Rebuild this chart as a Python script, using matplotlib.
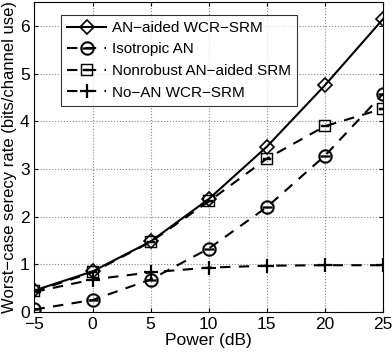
import matplotlib
matplotlib.use("Agg")
import matplotlib.pyplot as plt

power = [-5, 0, 5, 10, 15, 20, 25]
an_aided = [0.45, 0.85, 1.48, 2.37, 3.47, 4.76, 6.15]
isotropic = [0.05, 0.25, 0.68, 1.33, 2.20, 3.28, 4.58]
nonrobust = [0.43, 0.83, 1.47, 2.32, 3.22, 3.90, 4.27]
no_an = [0.42, 0.68, 0.83, 0.93, 0.97, 0.98, 0.98]
labels = ["AN\u2212aided WCR\u2212SRM", "Isotropic AN", "Nonrobust AN\u2212aided SRM", "No\u2212AN WCR\u2212SRM"]

plt.rcParams['font.family'] = ['Liberation Sans Narrow', 'Liberation Sans', 'DejaVu Sans']
fig = plt.figure(figsize=(3.92, 3.52), dpi=100)
ax = fig.add_axes([0.088, 0.114, 0.889, 0.879])

dash = (0, (5, 4))
ax.plot(power, an_aided, '-', color='k', lw=1.5, marker='D', ms=7, mfc='none', mew=1.2, label=labels[0])
ax.plot(power, isotropic, linestyle=dash, color='k', lw=1.5, marker='$\\ominus$', ms=10, mew=0.3, label=labels[1])
ax.plot(power, nonrobust, linestyle=dash, color='k', lw=1.5, marker='$\\boxminus$', ms=9, mew=0.3, label=labels[2])
ax.plot(power, no_an, linestyle=dash, color='k', lw=1.5, marker='+', ms=10, mew=1.6, label=labels[3])

ax.set_xlim(-5, 25)
ax.set_ylim(0, 6.5)
ax.set_xticks(power)
ax.set_yticks([0, 1, 2, 3, 4, 5, 6])
ax.grid(True, linestyle=':', color='#888888', lw=0.8)
ax.tick_params(direction='in', labelsize=12.5, length=3, top=True, right=True)
ax.set_xlabel("Power (dB)", fontsize=12.5, labelpad=1)
ax.set_ylabel("Worst\u2212case serecy rate (bits/channel use)", fontsize=12, labelpad=2)
leg = ax.legend(loc='upper left', fontsize=11, frameon=True, fancybox=False, edgecolor='k',
                handlelength=2.5, borderpad=0.4, labelspacing=0.5, handletextpad=0.4,
                bbox_to_anchor=(0.055, 0.985))
leg.get_frame().set_linewidth(0.8)
for s in ax.spines.values():
    s.set_linewidth(0.8)
fig.savefig("out.png", dpi=100)
